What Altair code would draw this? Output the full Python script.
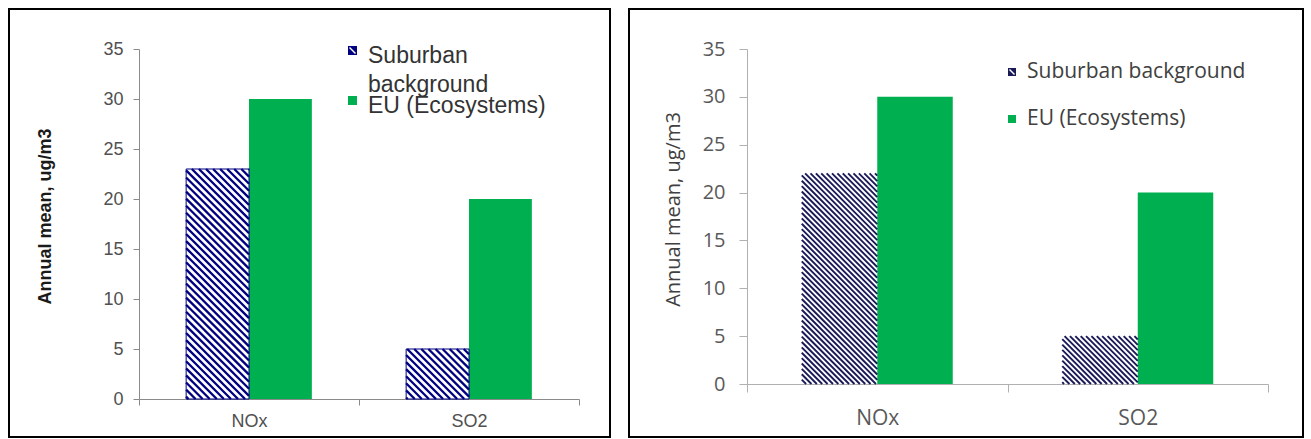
import math
import altair as alt
import pandas as pd

# Category axis and series
categories = ["NOx", "SO2"]
series = ["Suburban background", "EU (Ecosystems)"]

# Annual means, panel A
a_suburban = [23, 5]
a_eu = [30, 20]
# Annual means, panel B
b_suburban = [22, 5]
b_eu = [30, 20]

y_ticks = [0, 5, 10, 15, 20, 25, 30, 35]
Y_MAX = 35
GREEN = "#00B050"
N_CAT = len(categories)


def bar_table(values_by_series, gap):
    """Excel-style clustered bars: bar width from the gap width (fraction of a bar)."""
    w = 1.0 / (len(series) + gap)
    rows = []
    for j, (name, vals) in enumerate(zip(series, values_by_series)):
        for i, (cat, v) in enumerate(zip(categories, vals)):
            x0 = i + gap * w / 2 + j * w
            rows.append(dict(category=cat, series=name, sidx=j, value=v, x0=x0, x1=x0 + w))
    return pd.DataFrame(rows)


def hatch_table(bars, width, height, spacing):
    """Diagonal stripes clipped to every patterned bar, laid out at 45 degrees in pixel space."""
    step = spacing * math.sqrt(2)
    segs = []
    for _, b in bars[bars.sidx == 0].iterrows():
        u0 = b.x0 / N_CAT * width
        u1 = b.x1 / N_CAT * width
        vh = b.value / Y_MAX * height
        k = math.ceil(u0 / step)
        while k * step < u1 + vh:
            c = k * step
            ua, ub = max(u0, c - vh), min(u1, c)
            if ub > ua:
                segs.append(dict(xa=ua / width * N_CAT, ya=(c - ua) / height * Y_MAX,
                                 xb=ub / width * N_CAT, yb=(c - ub) / height * Y_MAX))
            k += 1
    return pd.DataFrame(segs)


def panel(values_by_series, st):
    W, H = st["width"], st["height"]
    bars = bar_table(values_by_series, st["gap"])
    hatch = hatch_table(bars, W, H, st["spacing"])
    legend_df = pd.DataFrame({"series": series, "sidx": list(range(len(series)))})

    xscale = alt.Scale(domain=[0, N_CAT], nice=False, zero=False)
    yscale = alt.Scale(domain=[0, Y_MAX], nice=False)
    # ticks sit on category boundaries; each label is shifted back to the middle of the
    # category that ends at its tick
    label_expr = f"datum.value > 0 ? {categories}[datum.value - 1] : ''"

    x_axis = alt.Axis(
        values=list(range(N_CAT + 1)), labelExpr=label_expr, title=None,
        labelOffset=-W / N_CAT / 2, labelFlush=False, labelOverlap=False, labelBound=False,
        labelFont=st["font"], labelFontSize=st["xlabel_size"], labelColor=st["text"],
        labelPadding=st["xlabel_pad"], tickSize=st["xtick"], tickColor=st["axis"],
        domainColor=st["axis"], grid=False,
    )
    y_axis = alt.Axis(
        values=y_ticks, title="Annual mean, ug/m3", grid=False,
        titleFont=st["font"], titleFontSize=st["title_size"], titleFontWeight=st["title_weight"],
        titleColor=st["title_color"], titleX=st["title_xy"][0], titleY=st["title_xy"][1],
        titleAlign="center", titleBaseline="middle", titleAngle=270,
        labelFont=st["font"], labelFontSize=st["ylabel_size"], labelColor=st["text"],
        labelPadding=st["ylabel_pad"], tickSize=st["ytick"], tickColor=st["axis"],
        domainColor=st["axis"],
    )

    frame = alt.Chart(pd.DataFrame({"f": [0]})).mark_rect(
        filled=False, stroke="black", strokeWidth=2
    ).encode(
        x=alt.value(st["frame"][0]), x2=alt.value(st["frame"][1]),
        y=alt.value(st["frame"][2]), y2=alt.value(st["frame"][3]),
    )

    base = alt.Chart(bars).mark_rect().encode(
        x=alt.X("x0:Q", scale=xscale, axis=x_axis),
        x2="x1:Q",
        y=alt.Y("value:Q", scale=yscale, axis=y_axis),
        y2=alt.datum(0),
        color=alt.Color("series:N", scale=alt.Scale(domain=series, range=["white", GREEN]), legend=None),
    )

    stripes = alt.Chart(hatch).mark_rule(
        color=st["hatch"], strokeWidth=st["hatch_width"], strokeCap="butt"
    ).encode(
        x=alt.X("xa:Q", scale=xscale, axis=x_axis), x2="xb:Q",
        y=alt.Y("ya:Q", scale=yscale, axis=y_axis), y2="yb:Q",
    )

    layers = [frame, base, stripes]
    if st["outline"]:
        layers.append(alt.Chart(bars).transform_filter(alt.datum.sidx == 0).mark_rect(
            filled=False, stroke=st["hatch"], strokeWidth=1
        ).encode(
            x=alt.X("x0:Q", scale=xscale, axis=x_axis), x2="x1:Q",
            y=alt.Y("value:Q", scale=yscale, axis=y_axis), y2=alt.datum(0),
        ))

    # legend entries
    lg = st["legend"]
    swatch_colors = [st["hatch"], GREEN]
    for j in range(len(series)):
        top = lg["swatch_top"] + j * lg["gap"]
        one = alt.Chart(legend_df).transform_filter(alt.datum.sidx == j)
        layers.append(one.mark_rect(color=swatch_colors[j]).encode(
            x=alt.value(lg["x"]), x2=alt.value(lg["x"] + lg["size"]),
            y=alt.value(top), y2=alt.value(top + lg["size"]),
        ))
        if j == 0:
            layers.append(one.mark_rule(color="white", strokeWidth=1.4).encode(
                x=alt.value(lg["x"] + 1.5), x2=alt.value(lg["x"] + lg["size"] - 1.5),
                y=alt.value(top + 1.5), y2=alt.value(top + lg["size"] - 1.5),
            ))
        wrap = lg["wrap"] and j == 0
        txt = one.transform_calculate(
            label="replace(datum.series, ' ', '\\n')" if wrap else "datum.series"
        ).mark_text(
            align="left", baseline=lg["baseline"], font=st["font"], fontSize=lg["font_size"],
            color=lg["color"], lineBreak="\n", lineHeight=lg["line_height"],
        ).encode(
            x=alt.value(lg["text_x"]), y=alt.value(lg["text_y"] + j * lg["gap"]),
            text="label:N",
        )
        layers.append(txt)

    return alt.layer(*layers).properties(width=W, height=H)


style_a = dict(
    width=440, height=350, gap=1.5, spacing=5.0, hatch="#000080", hatch_width=2.3, outline=True,
    font="Liberation Sans", text="#505050", axis="#8a8a8a",
    xlabel_size=18, xlabel_pad=7, xtick=6, ylabel_size=18, ylabel_pad=10, ytick=6,
    title_size=18, title_weight="bold", title_color="#1a1a1a", title_xy=(-94, 167),
    frame=(-130, 471, -40, 388),
    legend=dict(x=209, size=9, swatch_top=-3, gap=50, text_x=229, text_y=14,
                baseline="alphabetic", font_size=23, line_height=29, color="#333333", wrap=True),
)

style_b = dict(
    width=521, height=335, gap=1.45, spacing=3.8, hatch="#1a1a58", hatch_width=1.9, outline=False,
    font="Open Sans", text="#595959", axis="#b0b0b0",
    xlabel_size=21, xlabel_pad=15, xtick=8, ylabel_size=20, ylabel_pad=14, ytick=8,
    title_size=20, title_weight="normal", title_color="#404040", title_xy=(-74, 160),
    frame=(-118, 556, -40, 388),
    legend=dict(x=261, size=8, swatch_top=19, gap=47, text_x=280, text_y=23,
                baseline="middle", font_size=21, line_height=26, color="#404040", wrap=False),
)

left = panel([a_suburban, a_eu], style_a)
right = panel([b_suburban, b_eu], style_b)

chart = alt.hconcat(left, right, spacing=168, bounds="flush").properties(
    padding={"left": 8, "top": 8, "right": 0, "bottom": 0},
    background="white",
).configure_view(strokeWidth=0)

chart.save("out.html", embed_options={"renderer": "svg", "actions": False})
